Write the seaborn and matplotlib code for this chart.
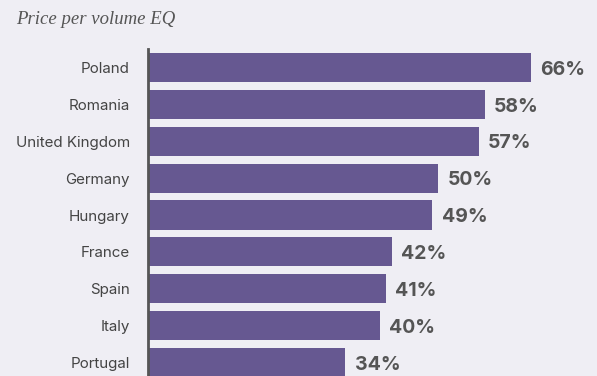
import matplotlib
matplotlib.use("Agg")
import matplotlib.pyplot as plt
import seaborn as sns
import pandas as pd

countries = ["Poland", "Romania", "United Kingdom", "Germany", "Hungary",
             "France", "Spain", "Italy", "Portugal"]
values = [66, 58, 57, 50, 49, 42, 41, 40, 34]
title = "Price per volume EQ"

bg = "#efeef4"
bar_color = "#665891"

sns.set_theme(style="white")
plt.rcParams["font.family"] = ["Inter", "DejaVu Sans"]

df = pd.DataFrame({"country": countries, "value": values})

W, H = 597, 376
fig = plt.figure(figsize=(W / 100, H / 100), dpi=100, facecolor=bg)
left, right = 148, 148 + 77 * 5.803
top, bottom = 49, 381
ax = fig.add_axes([left / W, 1 - bottom / H, (right - left) / W, (bottom - top) / H])
ax.set_facecolor(bg)

sns.barplot(data=df, x="value", y="country", color=bar_color, saturation=1,
            width=0.79, linewidth=0, ax=ax)

ax.set_xlim(0, 77)
ax.set_ylim(8.5, -0.5)
ax.set_xlabel("")
ax.set_ylabel("")
ax.set_xticks([])
for s in ["top", "right", "bottom"]:
    ax.spines[s].set_visible(False)
ax.spines["left"].set_color("#555555")
ax.spines["left"].set_linewidth(2)
ax.tick_params(axis="y", length=0, pad=13, labelsize=10.9, labelcolor="#444444")

for i, v in enumerate(values):
    ax.text(v + 1.6, i + 0.06, f"{v}%", va="center", ha="left", fontsize=14,
            fontweight="bold", color="#555555")

fig.text(16 / W, 1 - 19.5 / H, title, fontsize=13.5, fontstyle="italic",
         family=["Liberation Serif"], color="#555555", va="center", ha="left")

fig.savefig("out.png", dpi=100, facecolor=bg)
